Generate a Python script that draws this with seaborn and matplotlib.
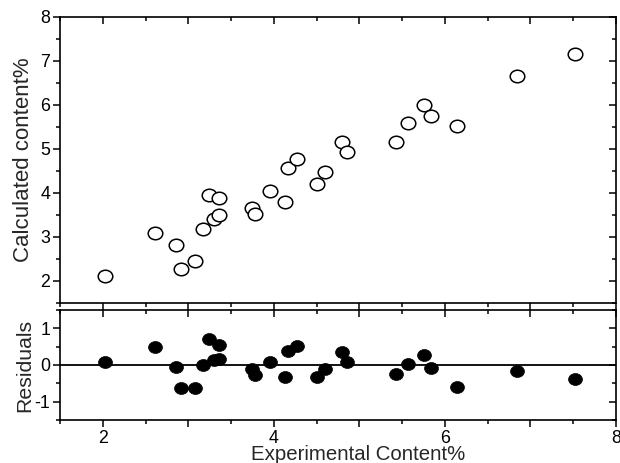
import numpy as np
import pandas as pd
import seaborn as sns
import matplotlib.pyplot as plt
from matplotlib.path import Path
from matplotlib.ticker import MultipleLocator

# values
experimental = [2.03, 2.61, 2.86, 2.92, 3.08, 3.17, 3.24, 3.30, 3.36, 3.36,
                3.75, 3.78, 3.96, 4.13, 4.17, 4.27, 4.51, 4.60, 4.80, 4.85,
                5.43, 5.57, 5.75, 5.84, 6.14, 6.84, 7.52]
calculated = [2.11, 3.10, 2.81, 2.28, 2.46, 3.18, 3.95, 3.42, 3.88, 3.51,
              3.65, 3.53, 4.04, 3.80, 4.56, 4.77, 4.20, 4.47, 5.16, 4.94,
              5.17, 5.59, 6.01, 5.76, 5.53, 6.65, 7.15]
residuals = [0.09, 0.48, -0.05, -0.63, -0.62, 0.01, 0.71, 0.13, 0.54, 0.15,
             -0.10, -0.26, 0.09, -0.32, 0.39, 0.51, -0.32, -0.12, 0.36, 0.09,
             -0.25, 0.03, 0.26, -0.07, -0.61, -0.17, -0.37]
x_ticklabels = ['2', '', '4', '', '6', '', '8']

df = pd.DataFrame({'exp': experimental, 'calc': calculated, 'res': residuals})

sns.set_style('ticks')
plt.rcParams['font.family'] = ['Liberation Sans', 'DejaVu Sans']
plt.rcParams['axes.linewidth'] = 1.2
plt.rcParams['axes.unicode_minus'] = False

# slightly flattened circle like the original markers
uc = Path.unit_circle()
oval = Path(uc.vertices * np.array([1.0, 0.86]), uc.codes)

fig = plt.figure(figsize=(6.2, 4.63), dpi=100)
ax1 = fig.add_axes([0.0968, 0.3456, 0.8968, 0.6177])
ax2 = fig.add_axes([0.0968, 0.0929, 0.8968, 0.2376])

sns.scatterplot(data=df, x='exp', y='calc', ax=ax1, marker=oval, s=110,
                facecolor='white', edgecolor='black', linewidth=1.1, zorder=3)
sns.scatterplot(data=df, x='exp', y='res', ax=ax2, marker=oval, s=100,
                color='black', edgecolor='black', linewidth=0.5, zorder=3)
ax2.axhline(0, color='black', lw=1.3, zorder=2)

ax1.set_ylim(1.5, 8)
ax2.set_ylim(-1.5, 1.5)

for ax in (ax1, ax2):
    ax.set_xlim(1.5, 8)
    for sp in ax.spines.values():
        sp.set_visible(True)
        sp.set_color('black')
    # outward ticks on left and bottom
    ax.tick_params(which='both', direction='out', top=False, right=False,
                   color='black', labelcolor='black', width=1.1)
    ax.tick_params(which='major', length=5, labelsize=12.8, pad=2)
    ax.tick_params(which='minor', length=3)
    ax.xaxis.set_major_locator(MultipleLocator(1))
    ax.xaxis.set_minor_locator(MultipleLocator(0.5))
    ax.yaxis.set_major_locator(MultipleLocator(1))
    ax.yaxis.set_minor_locator(MultipleLocator(0.5))
    # inward ticks on top and right
    top = ax.secondary_xaxis('top')
    right = ax.secondary_yaxis('right')
    for sec in (top, right):
        sec.tick_params(which='both', direction='in', width=1.1, color='black',
                        labeltop=False, labelright=False)
        sec.tick_params(which='major', length=5)
        sec.tick_params(which='minor', length=3)
        for sp in sec.spines.values():
            sp.set_visible(False)
    top.xaxis.set_major_locator(MultipleLocator(1))
    top.xaxis.set_minor_locator(MultipleLocator(0.5))
    right.yaxis.set_major_locator(MultipleLocator(1))
    right.yaxis.set_minor_locator(MultipleLocator(0.5))

ax1.set_xticklabels([])
ax1.set_xlabel('')
ax1.set_ylabel('Calculated content%', fontsize=16)

ax2.set_xticks([2, 3, 4, 5, 6, 7, 8])
ax2.set_xticklabels(x_ticklabels)
ax2.set_ylabel('Residuals', fontsize=15.3)
ax2.set_xlabel('Experimental Content%', fontsize=14.7)
ax2.xaxis.set_label_coords(0.536, -0.228)

ax1.yaxis.set_label_coords(-0.047, 0.5)
ax2.yaxis.set_label_coords(-0.047, 0.5)

fig.savefig('out.png', dpi=100)
